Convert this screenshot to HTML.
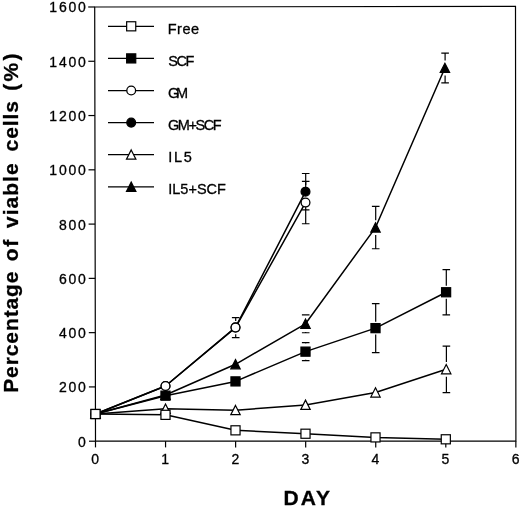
<!DOCTYPE html>
<html><head><meta charset="utf-8"><title>chart</title>
<style>
html,body{margin:0;padding:0;background:#fff;}
body{width:520px;height:506px;overflow:hidden;}
svg{display:block;will-change:transform;}
text{font-family:"Liberation Sans",sans-serif;fill:#000;}
.tk{font-size:14px;letter-spacing:1.8px;stroke:#000;stroke-width:0.3px;}
.lg{font-size:14.5px;stroke:#000;stroke-width:0.3px;}
.ti{font-size:21px;font-weight:bold;stroke:#000;stroke-width:0.3px;}
</style></head><body>
<svg width="520" height="506" viewBox="0 0 520 506">
<rect width="520" height="506" fill="#fff"/>
<path d="M94.7 7.0L515.5 6.3L515.9 441.1L95.5 441.2Z" fill="none" stroke="#000" stroke-width="1.2"/>
<path d="M89.00 441.20H95.50" stroke="#000" stroke-width="1.2"/>
<text x="87.7" y="446.60" text-anchor="end" class="tk">0</text>
<path d="M88.90 386.92H95.40" stroke="#000" stroke-width="1.2"/>
<text x="87.7" y="392.32" text-anchor="end" class="tk">200</text>
<path d="M88.80 332.65H95.30" stroke="#000" stroke-width="1.2"/>
<text x="87.7" y="338.05" text-anchor="end" class="tk">400</text>
<path d="M88.70 278.37H95.20" stroke="#000" stroke-width="1.2"/>
<text x="87.7" y="283.77" text-anchor="end" class="tk">600</text>
<path d="M88.60 224.10H95.10" stroke="#000" stroke-width="1.2"/>
<text x="87.7" y="229.50" text-anchor="end" class="tk">800</text>
<path d="M88.50 169.82H95.00" stroke="#000" stroke-width="1.2"/>
<text x="87.7" y="175.22" text-anchor="end" class="tk">1000</text>
<path d="M88.40 115.54H94.90" stroke="#000" stroke-width="1.2"/>
<text x="87.7" y="120.94" text-anchor="end" class="tk">1200</text>
<path d="M88.30 61.27H94.80" stroke="#000" stroke-width="1.2"/>
<text x="87.7" y="66.67" text-anchor="end" class="tk">1400</text>
<path d="M88.20 6.99H94.70" stroke="#000" stroke-width="1.2"/>
<text x="87.7" y="12.39" text-anchor="end" class="tk">1600</text>
<path d="M95.50 441.2V447.4" stroke="#000" stroke-width="1.2"/>
<text x="96.10" y="463.9" text-anchor="middle" class="tk">0</text>
<path d="M165.56 441.2V447.4" stroke="#000" stroke-width="1.2"/>
<text x="166.16" y="463.9" text-anchor="middle" class="tk">1</text>
<path d="M235.62 441.2V447.4" stroke="#000" stroke-width="1.2"/>
<text x="236.22" y="463.9" text-anchor="middle" class="tk">2</text>
<path d="M305.68 441.2V447.4" stroke="#000" stroke-width="1.2"/>
<text x="306.28" y="463.9" text-anchor="middle" class="tk">3</text>
<path d="M375.74 441.2V447.4" stroke="#000" stroke-width="1.2"/>
<text x="376.34" y="463.9" text-anchor="middle" class="tk">4</text>
<path d="M445.80 441.2V447.4" stroke="#000" stroke-width="1.2"/>
<text x="446.40" y="463.9" text-anchor="middle" class="tk">5</text>
<path d="M515.86 441.2V447.4" stroke="#000" stroke-width="1.2"/>
<text x="516.46" y="463.9" text-anchor="middle" class="tk">6</text>
<path d="M301.90 314.81h7.6M301.90 332.75h7.6M305.70 314.81V315.58M305.70 331.98V332.75" stroke="#000" stroke-width="1.2" fill="none"/>
<path d="M371.90 206.36h7.6M371.90 248.77h7.6M375.70 206.36V220.17M375.70 234.97V248.77" stroke="#000" stroke-width="1.2" fill="none"/>
<path d="M441.30 53.07h7.6M441.30 82.97h7.6M445.10 53.07V60.62M445.10 75.42V82.97" stroke="#000" stroke-width="1.2" fill="none"/>
<path d="M442.60 346.07h7.6M442.60 392.55h7.6M446.40 346.07V361.91M446.40 376.71V392.55" stroke="#000" stroke-width="1.2" fill="none"/>
<path d="M301.90 173.48h7.6M301.90 209.90h7.6M305.70 173.48V185.09M305.70 198.29V209.90" stroke="#000" stroke-width="1.2" fill="none"/>
<path d="M231.90 317.53h7.6M231.90 337.64h7.6M235.70 317.53V320.99M235.70 334.19V337.64" stroke="#000" stroke-width="1.2" fill="none"/>
<path d="M301.90 181.36h7.6M301.90 223.76h7.6M305.70 181.36V195.96M305.70 209.16V223.76" stroke="#000" stroke-width="1.2" fill="none"/>
<path d="M301.90 342.67h7.6M301.90 360.61h7.6M305.70 342.67V343.44M305.70 359.84V360.61" stroke="#000" stroke-width="1.2" fill="none"/>
<path d="M371.90 303.67h7.6M371.90 352.59h7.6M375.70 303.67V321.73M375.70 334.53V352.59" stroke="#000" stroke-width="1.2" fill="none"/>
<path d="M442.50 269.69h7.6M442.50 314.81h7.6M446.30 269.69V285.85M446.30 298.65V314.81" stroke="#000" stroke-width="1.2" fill="none"/>
<polyline points="95.50,414.02 165.50,394.99 235.50,364.28 305.50,323.78 375.50,227.57 444.90,68.02" fill="none" stroke="#000" stroke-width="1.5" stroke-linejoin="round"/>
<path d="M95.50 409.22 L100.20 418.52 L90.80 418.52 Z" fill="#000" stroke="#000" stroke-width="1.2" stroke-linejoin="miter"/>
<path d="M165.50 390.19 L170.20 399.49 L160.80 399.49 Z" fill="#000" stroke="#000" stroke-width="1.2" stroke-linejoin="miter"/>
<path d="M235.50 359.48 L240.20 368.78 L230.80 368.78 Z" fill="#000" stroke="#000" stroke-width="1.2" stroke-linejoin="miter"/>
<path d="M305.50 318.98 L310.20 328.28 L300.80 328.28 Z" fill="#000" stroke="#000" stroke-width="1.2" stroke-linejoin="miter"/>
<path d="M375.50 222.77 L380.20 232.07 L370.80 232.07 Z" fill="#000" stroke="#000" stroke-width="1.2" stroke-linejoin="miter"/>
<path d="M444.90 63.22 L449.60 72.52 L440.20 72.52 Z" fill="#000" stroke="#000" stroke-width="1.2" stroke-linejoin="miter"/>
<polyline points="95.50,414.02 165.50,408.86 235.50,410.21 305.50,404.91 375.50,392.55 446.20,369.31" fill="none" stroke="#000" stroke-width="1.5" stroke-linejoin="round"/>
<path d="M95.50 409.22 L100.20 418.52 L90.80 418.52 Z" fill="#fff" stroke="#000" stroke-width="1.2" stroke-linejoin="miter"/>
<path d="M165.50 404.06 L170.20 413.36 L160.80 413.36 Z" fill="#fff" stroke="#000" stroke-width="1.2" stroke-linejoin="miter"/>
<path d="M235.50 405.41 L240.20 414.71 L230.80 414.71 Z" fill="#fff" stroke="#000" stroke-width="1.2" stroke-linejoin="miter"/>
<path d="M305.50 400.11 L310.20 409.41 L300.80 409.41 Z" fill="#fff" stroke="#000" stroke-width="1.2" stroke-linejoin="miter"/>
<path d="M375.50 387.75 L380.20 397.05 L370.80 397.05 Z" fill="#fff" stroke="#000" stroke-width="1.2" stroke-linejoin="miter"/>
<path d="M446.20 364.51 L450.90 373.81 L441.50 373.81 Z" fill="#fff" stroke="#000" stroke-width="1.2" stroke-linejoin="miter"/>
<polyline points="95.50,414.02 165.50,386.02 235.50,327.32 305.50,191.69" fill="none" stroke="#000" stroke-width="1.5" stroke-linejoin="round"/>
<circle cx="95.50" cy="414.02" r="4.4" fill="#000" stroke="#000" stroke-width="1.3"/>
<circle cx="165.50" cy="386.02" r="4.4" fill="#000" stroke="#000" stroke-width="1.3"/>
<circle cx="235.50" cy="327.32" r="4.4" fill="#000" stroke="#000" stroke-width="1.3"/>
<circle cx="305.50" cy="191.69" r="4.4" fill="#000" stroke="#000" stroke-width="1.3"/>
<polyline points="95.50,414.02 165.50,386.02 235.50,327.59 305.50,202.56" fill="none" stroke="#000" stroke-width="1.5" stroke-linejoin="round"/>
<circle cx="95.50" cy="414.02" r="4.4" fill="#fff" stroke="#000" stroke-width="1.3"/>
<circle cx="165.50" cy="386.02" r="4.4" fill="#fff" stroke="#000" stroke-width="1.3"/>
<circle cx="235.50" cy="327.59" r="4.4" fill="#fff" stroke="#000" stroke-width="1.3"/>
<circle cx="305.50" cy="202.56" r="4.4" fill="#fff" stroke="#000" stroke-width="1.3"/>
<polyline points="95.50,414.02 165.50,395.67 235.50,381.40 305.50,351.64 375.50,328.13 446.10,292.25" fill="none" stroke="#000" stroke-width="1.5" stroke-linejoin="round"/>
<rect x="90.95" y="409.47" width="9.1" height="9.1" fill="#000" stroke="#000" stroke-width="1.2"/>
<rect x="160.95" y="391.12" width="9.1" height="9.1" fill="#000" stroke="#000" stroke-width="1.2"/>
<rect x="230.95" y="376.85" width="9.1" height="9.1" fill="#000" stroke="#000" stroke-width="1.2"/>
<rect x="300.95" y="347.09" width="9.1" height="9.1" fill="#000" stroke="#000" stroke-width="1.2"/>
<rect x="370.95" y="323.58" width="9.1" height="9.1" fill="#000" stroke="#000" stroke-width="1.2"/>
<rect x="441.55" y="287.70" width="9.1" height="9.1" fill="#000" stroke="#000" stroke-width="1.2"/>
<polyline points="95.50,414.02 165.50,414.84 235.50,430.33 305.50,433.73 375.50,437.39 445.80,439.30" fill="none" stroke="#000" stroke-width="1.5" stroke-linejoin="round"/>
<rect x="90.95" y="409.47" width="9.1" height="9.1" fill="#fff" stroke="#000" stroke-width="1.2"/>
<rect x="160.95" y="410.29" width="9.1" height="9.1" fill="#fff" stroke="#000" stroke-width="1.2"/>
<rect x="230.95" y="425.78" width="9.1" height="9.1" fill="#fff" stroke="#000" stroke-width="1.2"/>
<rect x="300.95" y="429.18" width="9.1" height="9.1" fill="#fff" stroke="#000" stroke-width="1.2"/>
<rect x="370.95" y="432.84" width="9.1" height="9.1" fill="#fff" stroke="#000" stroke-width="1.2"/>
<rect x="441.25" y="434.75" width="9.1" height="9.1" fill="#fff" stroke="#000" stroke-width="1.2"/>
<path d="M108 26.30H154" stroke="#000" stroke-width="1.25"/>
<rect x="126.65" y="21.75" width="9.1" height="9.1" fill="#fff" stroke="#000" stroke-width="1.2"/>
<text x="167.65" y="33.80" class="lg" style="letter-spacing:0.57px">Free</text>
<path d="M108 58.40H154" stroke="#000" stroke-width="1.25"/>
<rect x="126.65" y="53.85" width="9.1" height="9.1" fill="#000" stroke="#000" stroke-width="1.2"/>
<text x="168.15" y="65.90" class="lg" style="letter-spacing:-1.35px">SCF</text>
<path d="M108 90.50H154" stroke="#000" stroke-width="1.25"/>
<circle cx="131.20" cy="90.50" r="4.4" fill="#fff" stroke="#000" stroke-width="1.3"/>
<text x="168.0" y="98.00" class="lg" style="letter-spacing:-3.24px">GM</text>
<path d="M108 122.60H154" stroke="#000" stroke-width="1.25"/>
<circle cx="131.20" cy="122.60" r="4.4" fill="#000" stroke="#000" stroke-width="1.3"/>
<text x="168.0" y="130.10" class="lg" style="letter-spacing:-1.44px">GM+SCF</text>
<path d="M108 154.70H154" stroke="#000" stroke-width="1.25"/>
<path d="M131.20 149.90 L135.90 159.20 L126.50 159.20 Z" fill="#fff" stroke="#000" stroke-width="1.2" stroke-linejoin="miter"/>
<text x="168.2" y="162.20" class="lg" style="letter-spacing:1.7px">IL5</text>
<path d="M108 186.80H154" stroke="#000" stroke-width="1.25"/>
<path d="M131.20 182.00 L135.90 191.30 L126.50 191.30 Z" fill="#000" stroke="#000" stroke-width="1.2" stroke-linejoin="miter"/>
<text x="168.2" y="194.30" class="lg" style="letter-spacing:0.02px">IL5+SCF</text>
<text class="ti" transform="translate(17.8 392.8) rotate(-90)" style="letter-spacing:0.9px">Percentage</text>
<text class="ti" transform="translate(17.8 261.3) rotate(-90)" style="letter-spacing:1.6px">of</text>
<text class="ti" transform="translate(17.8 228.0) rotate(-90)" style="letter-spacing:1.02px">viable</text>
<text class="ti" transform="translate(17.8 151.4) rotate(-90)" style="letter-spacing:0.9px">cells</text>
<text class="ti" transform="translate(17.8 90.7) rotate(-90)" style="letter-spacing:2.3px">(%)</text>
<text class="ti" x="283.5" y="504.7" style="letter-spacing:2px">DAY</text>
</svg>
</body></html>
